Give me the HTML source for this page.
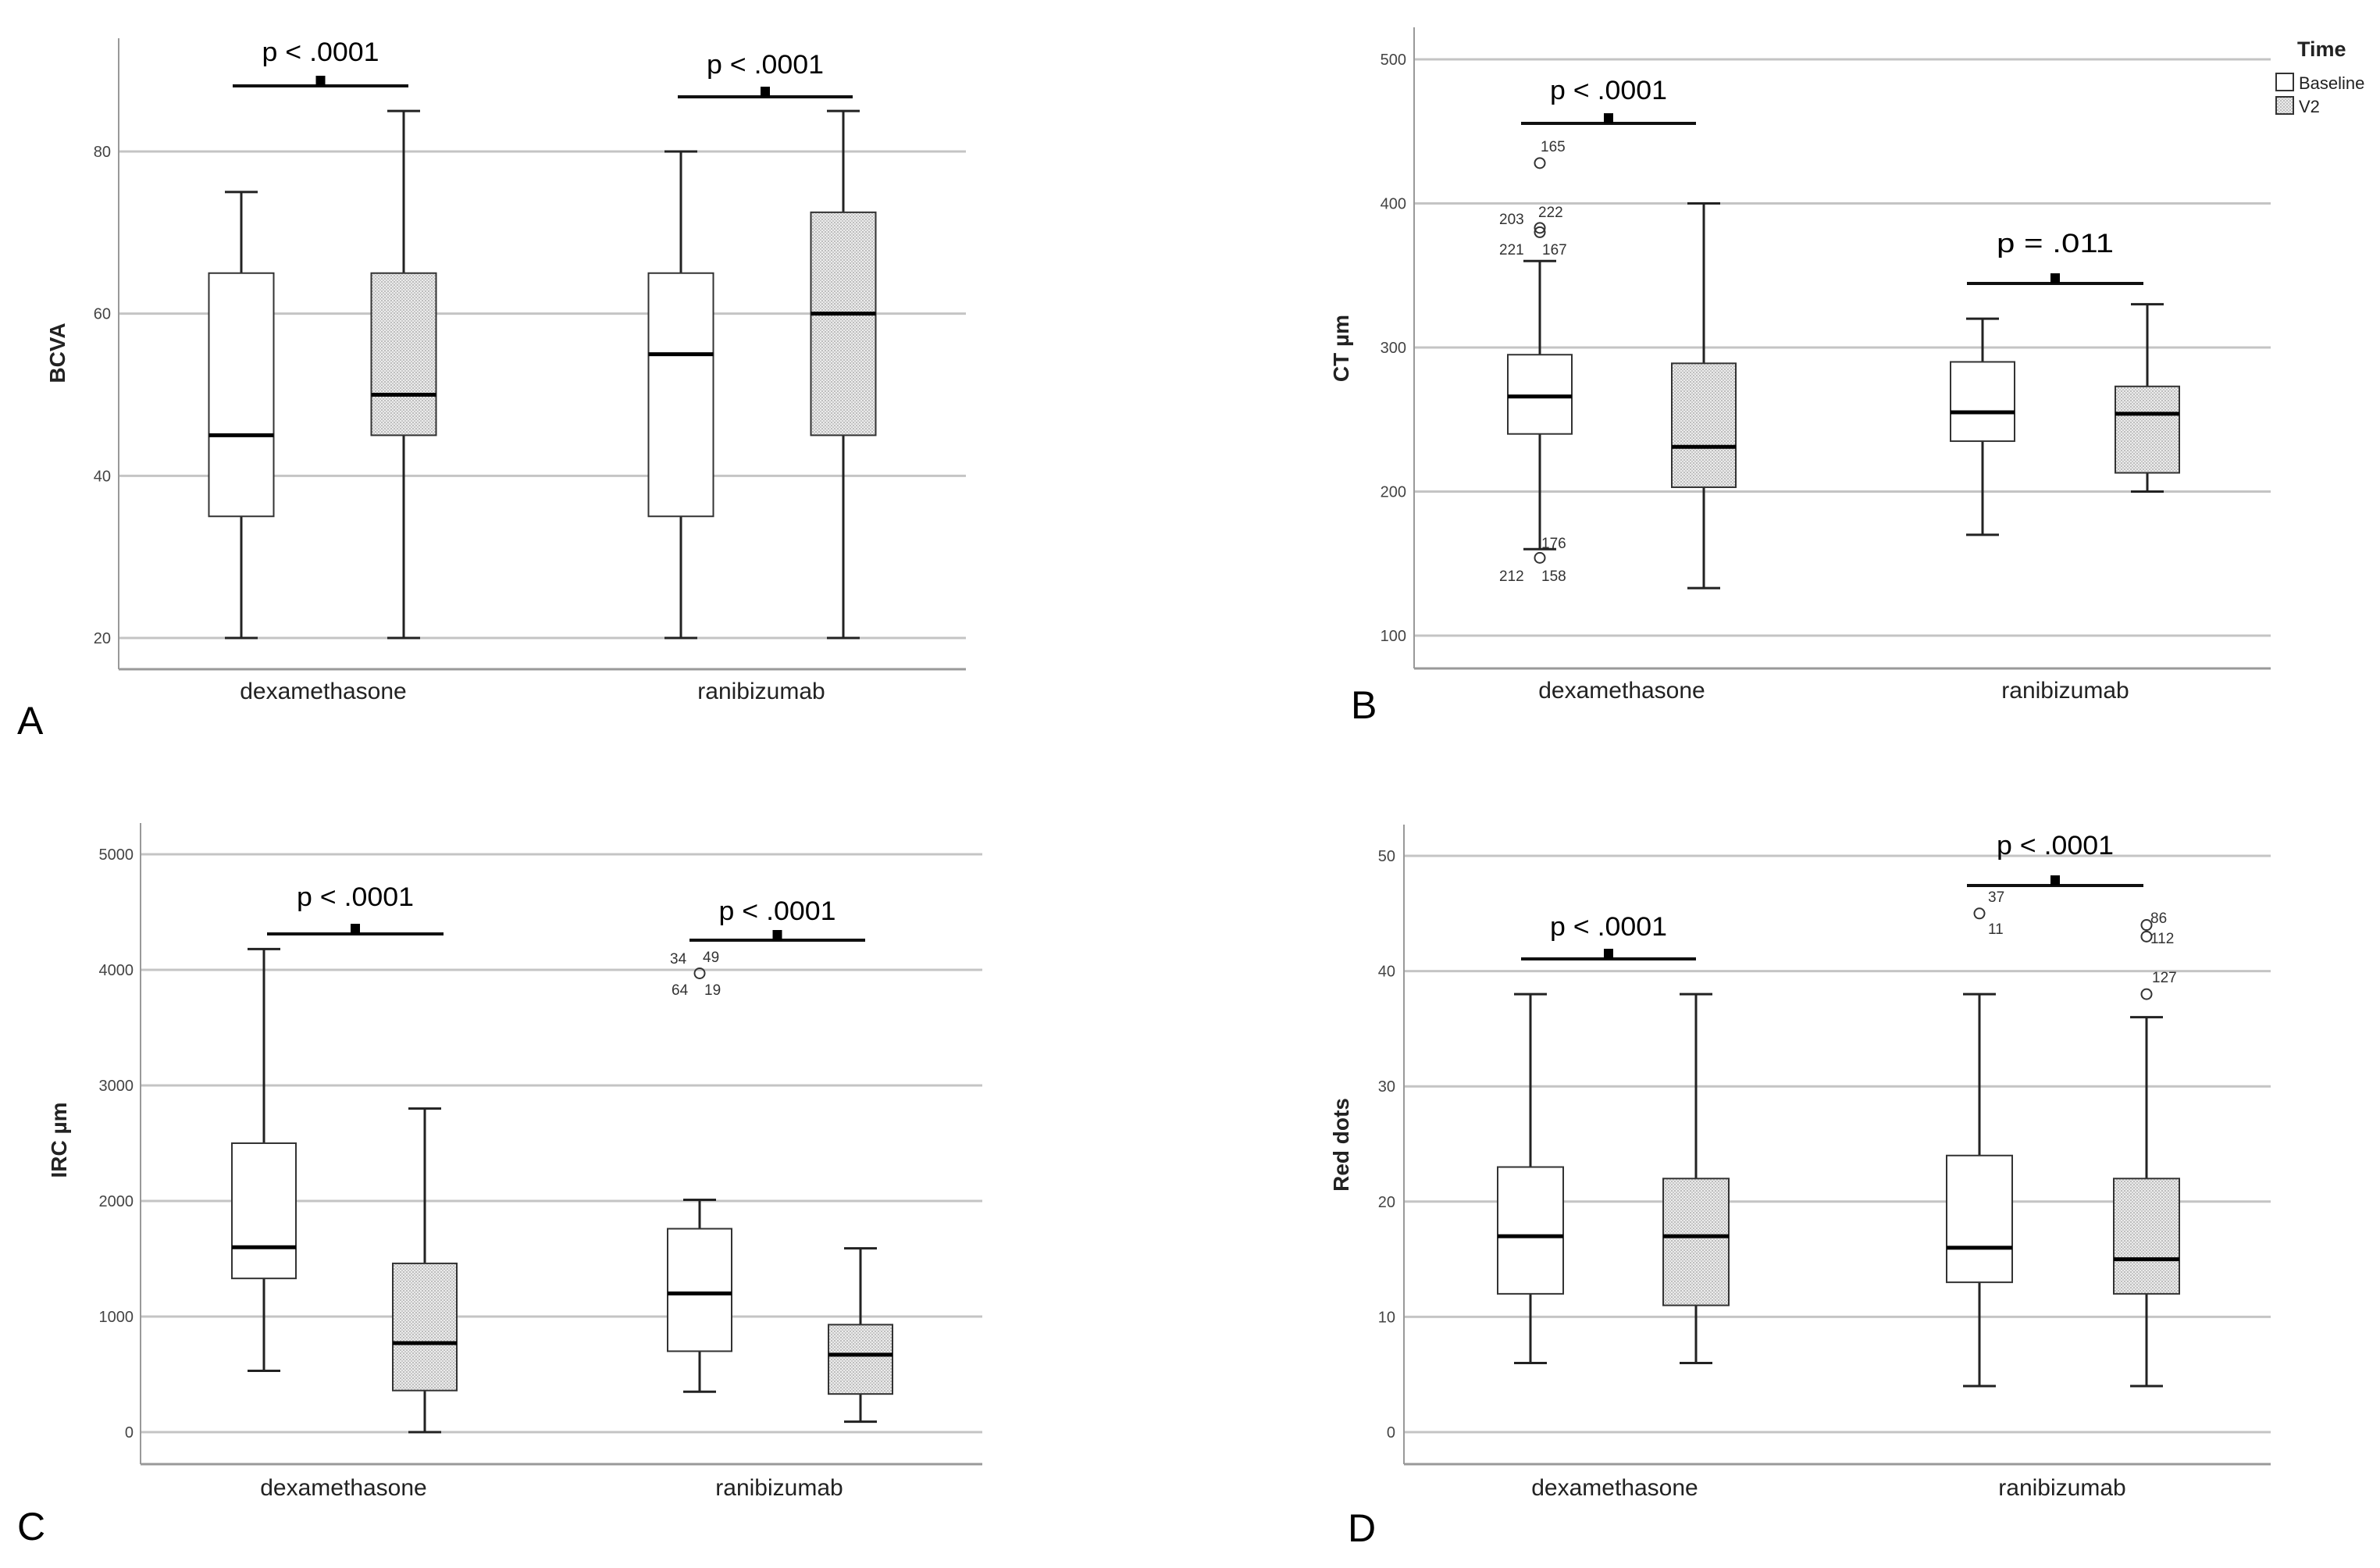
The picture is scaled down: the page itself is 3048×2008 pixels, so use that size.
<!DOCTYPE html>
<html><head><meta charset="utf-8">
<style>
html,body{margin:0;padding:0;background:#fff;}
svg{display:block;}
text{font-family:"Liberation Sans",sans-serif;}
</style></head>
<body>
<svg id="fig" width="3048" height="2008" viewBox="0 0 3048 2008" xmlns="http://www.w3.org/2000/svg">
<defs>
<pattern id="hatch" width="4" height="4" patternUnits="userSpaceOnUse">
<rect width="4" height="4" fill="#ececec"/>
<rect width="2" height="2" fill="#bdbdbd"/>
<rect x="2" y="2" width="2" height="2" fill="#c8c8c8"/>
</pattern>
</defs>
<g id="root"></g>
</svg>
<script>
// ---- Data (per panel) ----
const categories = ["dexamethasone", "ranibizumab"];
const seriesNames = ["Baseline", "V2"];
// [low, q1, median, q3, high] for dex-Baseline, dex-V2, rani-Baseline, rani-V2
const bcvaStats = [[20,35,45,65,75],[20,45,50,65,85],[20,35,55,65,80],[20,45,60,72.5,85]];
const bcvaTicks = [20,40,60,80];
const ctStats = [[160,240,266,295,360],[133,203,231,289,400],[170,235,255,290,320],[200,213,254,273,330]];
const ctTicks = [100,200,300,400,500];
const ctOutliers = [[0,428],[0,383],[0,380],[0,154]];
const ircStats = [[530,1330,1600,2500,4180],[0,360,770,1460,2800],[350,700,1200,1760,2010],[90,330,670,930,1590]];
const ircTicks = [0,1000,2000,3000,4000,5000];
const ircOutliers = [[2,3970]];
const redStats = [[6,12,17,23,38],[6,11,17,22,38],[4,13,16,24,38],[4,12,15,22,36]];
const redTicks = [0,10,20,30,40,50];
const redOutliers = [[2,45],[3,44],[3,43],[3,38]];
const pLabelsA = ["p < .0001","p < .0001"];
const pLabelsB = ["p < .0001","p = .011"];
const pLabelsC = ["p < .0001","p < .0001"];
const pLabelsD = ["p < .0001","p < .0001"];

const NS = "http://www.w3.org/2000/svg";
const root = document.getElementById("root");
function mk(tag, attrs, parent, txt){
  const e = document.createElementNS(NS, tag);
  for (const k in attrs) e.setAttribute(k, attrs[k]);
  if (txt !== undefined) e.textContent = txt;
  (parent || root).appendChild(e);
  return e;
}

const panels = [
  {id:"a", letter:"A", title:"BCVA", stats:bcvaStats, ticks:bcvaTicks, outliers:[], pl:pLabelsA,
   axX:152, right:1237, top:49, axY:857, v0:20, y0:817, v1:80, y1:194,
   centers:[309,517,872,1080], bw:83, catX:[414,975], catY:895, letterX:22, letterY:940,
   titleX:73, titleY:452, tickR:142,
   sig:[{x1:298,x2:523,y:110,ty:78},{x1:868,x2:1092,y:124,ty:94}], labels:[]},
  {id:"b", letter:"B", title:"CT µm", stats:ctStats, ticks:ctTicks, outliers:ctOutliers, pl:pLabelsB,
   axX:1811, right:2908, top:35, axY:856, v0:100, y0:814, v1:500, y1:76,
   centers:[1972,2182,2539,2750], bw:82, catX:[2077,2645], catY:894, letterX:1730, letterY:920,
   titleX:1717, titleY:446, tickR:1801,
   sig:[{x1:1948,x2:2172,y:158,ty:127},{x1:2519,x2:2745,y:363,ty:323}],
   labels:[["165",1973,194],["203",1920,287],["222",1970,278],["221",1920,326],["167",1975,326],["176",1974,702],["212",1920,744],["158",1974,744]]},
  {id:"c", letter:"C", title:"IRC µm", stats:ircStats, ticks:ircTicks, outliers:ircOutliers, pl:pLabelsC,
   axX:180, right:1258, top:1054, axY:1875, v0:0, y0:1834, v1:5000, y1:1094,
   centers:[338,544,896,1102], bw:82, catX:[440,998], catY:1915, letterX:22, letterY:1972,
   titleX:75, titleY:1460, tickR:171,
   sig:[{x1:342,x2:568,y:1196,ty:1160},{x1:883,x2:1108,y:1204,ty:1178}],
   labels:[["34",858,1234],["49",900,1232],["64",860,1274],["19",902,1274]]},
  {id:"d", letter:"D", title:"Red dots", stats:redStats, ticks:redTicks, outliers:redOutliers, pl:pLabelsD,
   axX:1798, right:2908, top:1056, axY:1875, v0:0, y0:1834, v1:50, y1:1096,
   centers:[1960,2172,2535,2749], bw:84, catX:[2068,2641], catY:1915, letterX:1726, letterY:1974,
   titleX:1717, titleY:1466, tickR:1787,
   sig:[{x1:1948,x2:2172,y:1228,ty:1198},{x1:2519,x2:2745,y:1134,ty:1094}],
   labels:[["37",2546,1155],["11",2546,1196],["86",2754,1182],["112",2754,1208],["127",2756,1258]]}
];

panels.forEach(p => {
  const g = mk("g", {});
  
  
  const yS = v => p.y0 + (v - p.v0) * (p.y1 - p.y0) / (p.v1 - p.v0);
  p.ticks.forEach(t => {
    const gl = mk("line", {x1:p.axX, x2:p.right, y1:yS(t), y2:yS(t), stroke:"#c4c4c4", "stroke-width":3}, g);
    
    
    const tl = mk("text", {x:p.tickR, y:yS(t)+7, "text-anchor":"end", "font-size":20, fill:"#444"}, g, String(t));
    
    
  });
  const ya = mk("line", {x1:p.axX, x2:p.axX, y1:p.top, y2:p.axY, stroke:"#999", "stroke-width":2}, g);
  
  
  const xa = mk("line", {x1:p.axX, x2:p.right, y1:p.axY, y2:p.axY, stroke:"#999", "stroke-width":3}, g);
  
  
  p.stats.forEach((s, i) => {
    const cx = p.centers[i], hw = p.bw/2, cap = 21;
    const bg = mk("g", {}, g);
    
    
    mk("line", {x1:cx, x2:cx, y1:yS(s[0]), y2:yS(s[1]), stroke:"#222", "stroke-width":3}, bg);
    mk("line", {x1:cx, x2:cx, y1:yS(s[3]), y2:yS(s[4]), stroke:"#222", "stroke-width":3}, bg);
    mk("line", {x1:cx-cap, x2:cx+cap, y1:yS(s[0]), y2:yS(s[0]), stroke:"#222", "stroke-width":3}, bg);
    mk("line", {x1:cx-cap, x2:cx+cap, y1:yS(s[4]), y2:yS(s[4]), stroke:"#222", "stroke-width":3}, bg);
    mk("rect", {x:cx-hw, y:yS(s[3]), width:p.bw, height:yS(s[1])-yS(s[3]), fill:(i%2 ? "url(#hatch)" : "#fff"), stroke:"#333", "stroke-width":2}, bg);
    mk("line", {x1:cx-hw, x2:cx+hw, y1:yS(s[2]), y2:yS(s[2]), stroke:"#000", "stroke-width":5}, bg);
  });
  p.outliers.forEach(o => {
    const c = mk("circle", {cx:p.centers[o[0]], cy:yS(o[1]), r:6.5, fill:"none", stroke:"#333", "stroke-width":2}, g);
    
    
  });
  p.labels.forEach(l => {
    const t = mk("text", {x:l[1], y:l[2], "font-size":19, fill:"#333"}, g, l[0]);
    
    
  });
  p.sig.forEach((s, i) => {
    const sl = mk("line", {x1:s.x1, x2:s.x2, y1:s.y, y2:s.y, stroke:"#111", "stroke-width":4}, g);
    
    
    const mx = (s.x1 + s.x2)/2;
    mk("rect", {x:mx-6, y:s.y-13, width:12, height:13, fill:"#000"}, g);
    const pt = mk("text", {x:mx, y:s.ty, "text-anchor":"middle", "font-size":34, fill:"#000", textLength:150, lengthAdjust:"spacingAndGlyphs"}, g, p.pl[i]);
    
    
  });
  categories.forEach((c, i) => {
    const ct = mk("text", {x:p.catX[i], y:p.catY, "text-anchor":"middle", "font-size":30, fill:"#222"}, g, c);
    
    
  });
  const yt = mk("text", {x:p.titleX, y:p.titleY, "text-anchor":"middle", "font-size":28, "font-weight":"bold", fill:"#222", transform:`rotate(-90 ${p.titleX} ${p.titleY})`, dy:10}, g, p.title);
  
  
  const pl = mk("text", {x:p.letterX, y:p.letterY, "font-size":50, fill:"#000"}, g, p.letter);
  
  
});

const lg = mk("g", {});


const lt = mk("text", {x:2942, y:72, "font-size":27, "font-weight":"bold", fill:"#222"}, lg, "Time");


seriesNames.forEach((n, i) => {
  const e = mk("g", {}, lg);
  
  
  mk("rect", {x:2915, y:94 + i*30, width:22, height:22, fill:(i ? "url(#hatch)" : "#fff"), stroke:"#333", "stroke-width":2}, e);
  mk("text", {x:2944, y:114 + i*30, "font-size":22, fill:"#222"}, e, n);
});
</script>
</body></html>
